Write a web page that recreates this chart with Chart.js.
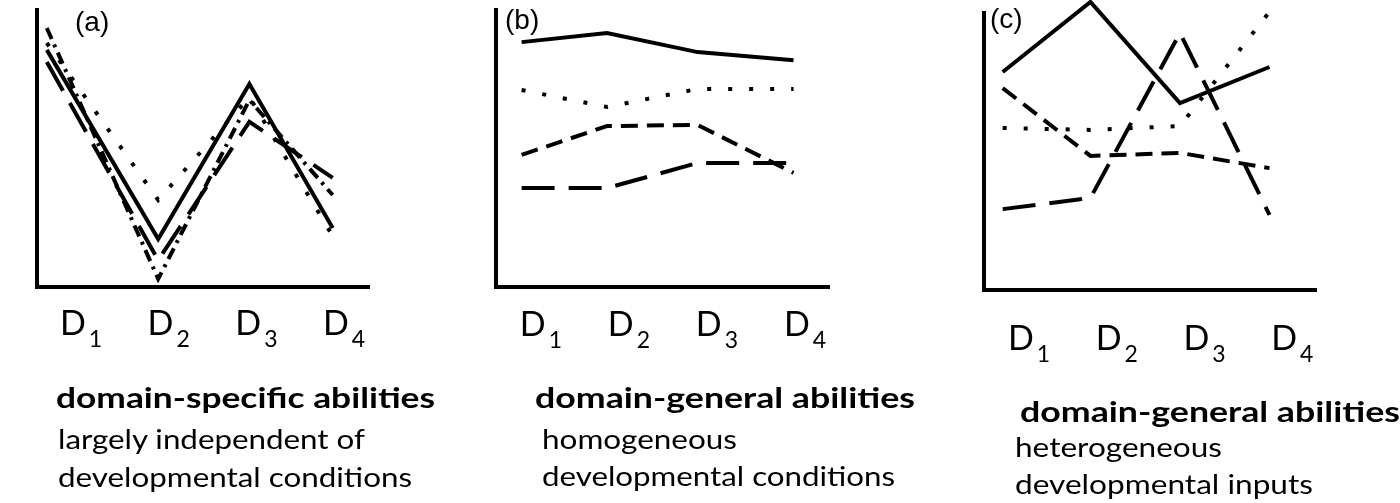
<!DOCTYPE html>
<html>
<head>
<meta charset="utf-8">
<script src="https://cdn.jsdelivr.net/npm/chart.js@4.4.1/dist/chart.umd.min.js"></script>
<style>
  body { margin: 0; background: #fff; width: 1400px; height: 503px; position: relative; overflow: hidden; }
  canvas { position: absolute; top: 0; }
  .txt { position: absolute; white-space: nowrap; line-height: 1; color: #000; font-family: Lato, sans-serif; transform-origin: 0 0; }
  .lab { position: absolute; line-height: 1; font-family: "Liberation Sans", Arial, sans-serif; color: #000; }
</style>
</head>
<body>
<canvas id="pa" width="470" height="503" style="left:0"></canvas>
<canvas id="pb" width="470" height="503" style="left:470px"></canvas>
<canvas id="pc" width="460" height="503" style="left:940px"></canvas>

<div class="lab" id="la">(a)</div>
<div class="lab" id="lb">(b)</div>
<div class="lab" id="lc">(c)</div>

<script>
// Werte (y: 0 = x-Achse, 100 = Oberkante der y-Achse)
const tickSubs = ['1', '2', '3', '4'];

// (a) bereichsspezifisch
const xA = [0.61, 1.88, 2.92, 3.87];
const aSolid = [85.6, 17.3, 73.3, 21.3];
const aDotted = [88.1, 31.4, 68.6, 18.4];
const aDashDot = [93.5, 2.9, 67.5, 33.2];
const aLongDash = [81.2, 9.7, 59.6, 39.4];

// (b) bereichsübergreifend, homogen
const xB = [0.78, 1.75, 2.78, 3.87];
const bSolid = [88.4, 91.7, 84.8, 81.9];
const bDotted = [71.1, 65.0, 71.5, 71.5];
const bDashed = [47.7, 58.1, 58.5, 41.2];
const bLongDash = [35.7, 35.7, 44.8, 44.8];

// (c) bereichsübergreifend, heterogen
const xC = [0.70, 1.70, 2.72, 3.74];
const cSolid = [78.7, 104.0, 67.5, 80.5];
const cDotted = [58.5, 57.8, 59.2, 100.4];
const cDashed = [72.9, 48.4, 49.5, 44.0];
const cLongDash = [29.2, 33.2, 92.8, 27.1];

// Beschriftungen unter den Diagrammen: Text, links, Grundlinie, Breite in der Vorlage
const boldLines = [
  ['domain-specific abilities', 56, 408, 379],
  ['domain-general abilities', 535, 408, 380],
  ['domain-general abilities', 1020, 422, 380]
];
const plainLines = [
  ['largely independent of', 58, 449, 307],
  ['developmental conditions', 58, 487, 354],
  ['homogeneous', 542, 449, 195],
  ['developmental conditions', 542, 486, 353],
  ['heterogeneous', 1015, 457, 207],
  ['developmental inputs', 1015, 494, 298]
];

const DASH = {
  solid: [],
  dotted: [4, 17],
  dashed: [17, 9],
  dashdot: [12, 6, 3, 6],
  long: [33, 14]
};

function punkte(xs, ys) {
  return ys.map((y, i) => ({ x: xs[i], y: y }));
}

function linie(xs, ys, stil) {
  return {
    data: punkte(xs, ys),
    borderColor: '#000',
    borderWidth: 4,
    borderDash: DASH[stil],
    borderCapStyle: 'butt',
    borderJoinStyle: 'miter',
    pointRadius: 0,
    tension: 0,
    fill: false,
    clip: false
  };
}

// D mit tiefgestellter Ziffer an den Skalenpositionen
const dTicks = {
  id: 'dTicks',
  afterDraw(chart, args, opts) {
    const ctx = chart.ctx;
    const sx = chart.scales.x;
    ctx.save();
    ctx.fillStyle = '#000';
    ctx.textBaseline = 'alphabetic';
    tickSubs.forEach((s, i) => {
      const cx = sx.getPixelForValue(i + 1);
      ctx.font = '34px Lato';
      const wD = ctx.measureText('D').width;
      ctx.font = '23px Lato';
      const wS = ctx.measureText(s).width;
      const x0 = cx - (wD + wS + 3) / 2;
      ctx.font = '34px Lato';
      ctx.fillText('D', x0, opts.y);
      ctx.font = '23px Lato';
      ctx.fillText(s, x0 + wD + 3, opts.y + 12);
    });
    ctx.restore();
  }
};

function panel(id, box, datasets) {
  const canvas = document.getElementById(id);
  new Chart(canvas.getContext('2d'), {
    type: 'line',
    data: { datasets: datasets },
    plugins: [dTicks],
    options: {
      responsive: false,
      animation: false,
      devicePixelRatio: 1,
      layout: {
        padding: { left: box.left, top: box.top, right: box.right, bottom: box.bottom }
      },
      plugins: {
        legend: { display: false },
        tooltip: { enabled: false },
        dTicks: { y: box.labelY }
      },
      scales: {
        x: {
          type: 'linear',
          min: box.xMin,
          max: box.xMax,
          grid: { display: false, drawTicks: false },
          border: { display: true, color: '#000', width: 4 },
          ticks: { display: false }
        },
        y: {
          min: 0,
          max: 100,
          grid: { display: false, drawTicks: false },
          border: { display: true, color: '#000', width: 4 },
          ticks: { display: false }
        }
      }
    }
  });
}

panel('pa', { left: 37, top: 10, right: 470 - 369, bottom: 503 - 287, xMin: 0.498, xMax: 4.284, labelY: 335 }, [
  linie(xA, aSolid, 'solid'),
  linie(xA, aDotted, 'dotted'),
  linie(xA, aDashDot, 'dashdot'),
  linie(xA, aLongDash, 'long')
]);

panel('pb', { left: 496 - 470, top: 10, right: 940 - 829, bottom: 503 - 287, xMin: 0.489, xMax: 4.273, labelY: 336 }, [
  linie(xB, bSolid, 'solid'),
  linie(xB, bDotted, 'dotted'),
  linie(xB, bDashed, 'dashed'),
  linie(xB, bLongDash, 'long')
]);

panel('pc', { left: 984 - 940, top: 13, right: 1400 - 1316, bottom: 503 - 290, xMin: 0.487, xMax: 4.27, labelY: 350 }, [
  linie(xC, cSolid, 'solid'),
  linie(xC, cDotted, 'dotted'),
  linie(xC, cDashed, 'dashed'),
  linie(xC, cLongDash, 'long')
]);

// Texte als HTML, Grundlinie -> top (Lato, line-height 1), Breite wie in der Vorlage
function setzeText(text, left, base, breite, size, weight) {
  const d = document.createElement('div');
  d.className = 'txt';
  d.textContent = text;
  d.style.fontSize = size + 'px';
  d.style.fontWeight = weight;
  d.style.left = left + 'px';
  d.style.top = (base - 0.887 * size) + 'px';
  document.body.appendChild(d);
  const w = d.getBoundingClientRect().width;
  if (w > 0) d.style.transform = 'scaleX(' + (breite / w) + ')';
}

boldLines.forEach(([t, x, b, w]) => setzeText(t, x, b, w, 29, 700));
plainLines.forEach(([t, x, b, w]) => setzeText(t, x, b, w, 26, 400));

const labs = [['la', 75, 8], ['lb', 505, 6], ['lc', 990, 5]];
labs.forEach(([id, x, y]) => {
  const el = document.getElementById(id);
  el.style.left = x + 'px';
  el.style.top = y + 'px';
  el.style.fontSize = '28px';
});
</script>
</body>
</html>
